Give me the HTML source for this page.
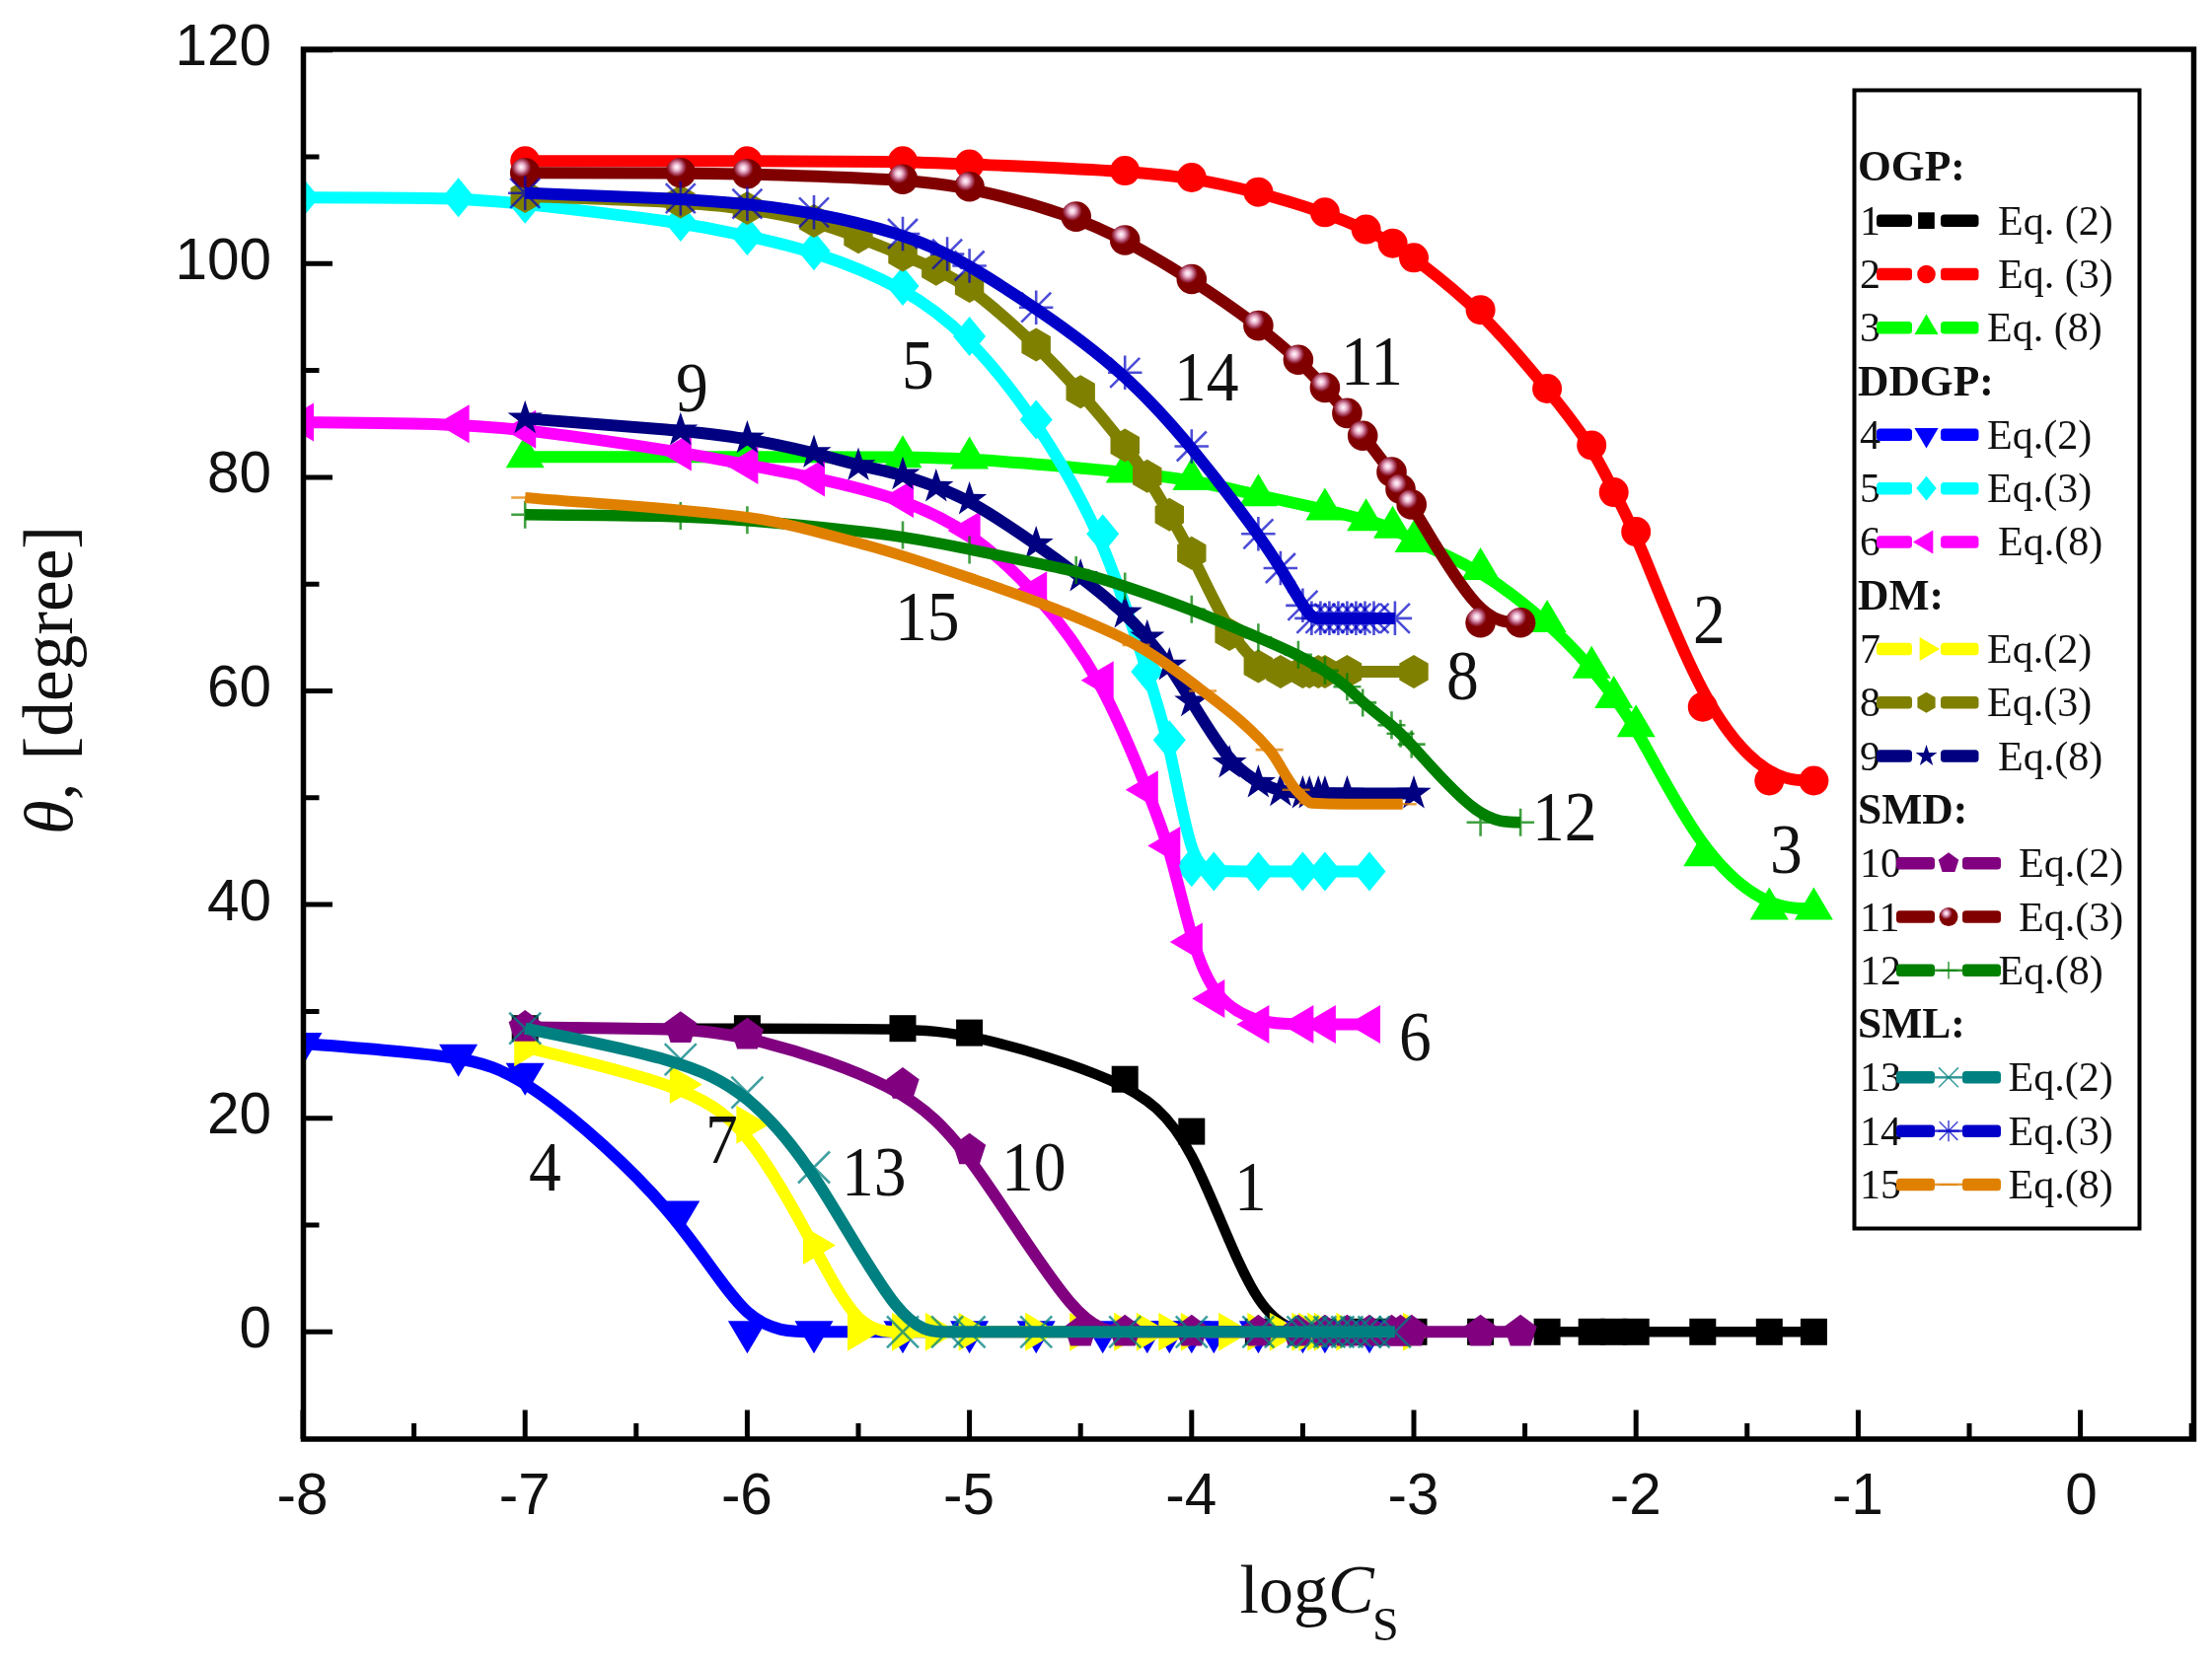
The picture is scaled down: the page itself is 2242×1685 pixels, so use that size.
<!DOCTYPE html>
<html><head><meta charset="utf-8"><title>Contact angle vs logCs</title>
<style>html,body{margin:0;padding:0;background:#fff}svg{display:block;filter:blur(0.6px)}</style></head>
<body>
<svg width="2242" height="1685" viewBox="0 0 2242 1685">
<rect width="2242" height="1685" fill="#fff"/>
<defs><radialGradient id="sph" cx="0.37" cy="0.31" r="0.33" fx="0.37" fy="0.31"><stop offset="0" stop-color="#fff"/><stop offset="0.35" stop-color="#ecb6ce"/><stop offset="0.75" stop-color="#a43c5a"/><stop offset="1" stop-color="#800000"/></radialGradient></defs>
<clipPath id="cp"><rect x="307.5" y="50.0" width="1916.0" height="1409.0"/></clipPath>
<g clip-path="url(#cp)">
<path d="M532.2 1042.7C607.3 1042.7 682.3 1042.7 746.1 1042.7C809.9 1042.7 862.5 1042.7 900.0 1043.5C937.6 1044.2 960.1 1045.6 997.6 1054.2C1035.1 1062.8 1087.7 1078.5 1125.2 1095.1C1162.8 1111.8 1185.3 1129.5 1207.8 1172.2C1230.3 1214.9 1252.8 1282.6 1275.4 1316.4C1297.9 1350.3 1320.4 1350.3 1338.6 1350.3C1356.8 1350.3 1370.7 1350.3 1382.1 1350.3C1393.6 1350.3 1402.6 1350.3 1410.7 1350.3C1418.7 1350.3 1425.9 1350.3 1440.7 1350.3C1455.5 1350.3 1478.0 1350.3 1500.6 1350.3C1523.1 1350.3 1545.6 1350.3 1564.4 1350.3C1583.1 1350.3 1598.1 1350.3 1609.4 1350.3C1620.7 1350.3 1628.2 1350.3 1635.7 1350.3C1643.2 1350.3 1650.7 1350.3 1665.7 1350.3C1680.7 1350.3 1703.2 1350.3 1725.8 1350.3C1748.3 1350.3 1770.8 1350.3 1789.6 1350.3C1808.3 1350.3 1823.3 1350.3 1838.4 1350.3" fill="none" stroke="#000" stroke-width="10.5" stroke-linejoin="round" stroke-linecap="butt"/>
<rect x="518.7" y="1029.2" width="27.0" height="27.0" fill="#000"/>
<rect x="743.9" y="1029.2" width="27.0" height="27.0" fill="#000"/>
<rect x="901.5" y="1029.2" width="27.0" height="27.0" fill="#000"/>
<rect x="969.1" y="1033.6" width="27.0" height="27.0" fill="#000"/>
<rect x="1126.7" y="1080.7" width="27.0" height="27.0" fill="#000"/>
<rect x="1194.3" y="1133.6" width="27.0" height="27.0" fill="#000"/>
<rect x="1261.9" y="1336.8" width="27.0" height="27.0" fill="#000"/>
<rect x="1329.4" y="1336.8" width="27.0" height="27.0" fill="#000"/>
<rect x="1371.1" y="1336.8" width="27.0" height="27.0" fill="#000"/>
<rect x="1398.1" y="1336.8" width="27.0" height="27.0" fill="#000"/>
<rect x="1419.5" y="1336.8" width="27.0" height="27.0" fill="#000"/>
<rect x="1487.1" y="1336.8" width="27.0" height="27.0" fill="#000"/>
<rect x="1554.6" y="1336.8" width="27.0" height="27.0" fill="#000"/>
<rect x="1599.7" y="1336.8" width="27.0" height="27.0" fill="#000"/>
<rect x="1622.2" y="1336.8" width="27.0" height="27.0" fill="#000"/>
<rect x="1644.7" y="1336.8" width="27.0" height="27.0" fill="#000"/>
<rect x="1712.3" y="1336.8" width="27.0" height="27.0" fill="#000"/>
<rect x="1779.8" y="1336.8" width="27.0" height="27.0" fill="#000"/>
<rect x="1824.9" y="1336.8" width="27.0" height="27.0" fill="#000"/>
<path d="M532.2 163.3C607.3 163.3 682.3 163.3 746.1 163.3C809.9 163.3 862.5 163.3 900.0 163.9C937.6 164.4 960.1 165.5 997.6 167.1C1035.1 168.7 1087.7 170.9 1125.2 173.2C1162.8 175.4 1185.3 177.7 1207.8 181.3C1230.3 184.9 1252.8 189.8 1275.4 195.7C1297.9 201.6 1320.4 208.5 1338.6 214.8C1356.8 221.1 1370.7 226.9 1382.1 232.1C1393.6 237.3 1402.6 242.0 1410.7 246.8C1418.7 251.6 1425.9 256.5 1440.7 267.7C1455.5 279.0 1478.0 296.6 1500.6 318.7C1523.1 340.8 1545.6 367.4 1564.4 390.3C1583.1 413.1 1598.1 432.3 1609.4 449.8C1620.7 467.3 1628.2 483.2 1635.7 497.8C1643.2 512.4 1650.7 525.8 1665.7 562.1C1680.7 598.3 1703.2 657.5 1725.8 699.6C1748.3 741.7 1770.8 766.6 1789.6 779.0C1808.3 791.5 1823.3 791.5 1838.4 791.5" fill="none" stroke="#ff0000" stroke-width="12.0" stroke-linejoin="round" stroke-linecap="butt"/>
<circle cx="532.2" cy="163.3" r="15.0" fill="#ff0000"/>
<circle cx="757.4" cy="163.3" r="15.0" fill="#ff0000"/>
<circle cx="915.0" cy="163.3" r="15.0" fill="#ff0000"/>
<circle cx="982.6" cy="166.6" r="15.0" fill="#ff0000"/>
<circle cx="1140.2" cy="173.1" r="15.0" fill="#ff0000"/>
<circle cx="1207.8" cy="180.0" r="15.0" fill="#ff0000"/>
<circle cx="1275.4" cy="194.7" r="15.0" fill="#ff0000"/>
<circle cx="1342.9" cy="215.3" r="15.0" fill="#ff0000"/>
<circle cx="1384.6" cy="232.6" r="15.0" fill="#ff0000"/>
<circle cx="1411.6" cy="246.7" r="15.0" fill="#ff0000"/>
<circle cx="1433.0" cy="261.3" r="15.0" fill="#ff0000"/>
<circle cx="1500.6" cy="314.2" r="15.0" fill="#ff0000"/>
<circle cx="1568.1" cy="394.0" r="15.0" fill="#ff0000"/>
<circle cx="1613.2" cy="451.4" r="15.0" fill="#ff0000"/>
<circle cx="1635.7" cy="499.1" r="15.0" fill="#ff0000"/>
<circle cx="1658.2" cy="539.1" r="15.0" fill="#ff0000"/>
<circle cx="1725.8" cy="716.7" r="15.0" fill="#ff0000"/>
<circle cx="1793.3" cy="791.5" r="15.0" fill="#ff0000"/>
<circle cx="1838.4" cy="791.5" r="15.0" fill="#ff0000"/>
<path d="M532.2 463.3C607.3 463.3 682.3 463.3 746.1 463.3C809.9 463.3 862.5 463.3 900.0 463.5C937.6 463.7 960.1 464.0 997.6 466.6C1035.1 469.1 1087.7 473.8 1125.2 477.4C1162.8 481.0 1185.3 483.5 1207.8 487.5C1230.3 491.5 1252.8 496.9 1275.4 502.0C1297.9 507.0 1320.4 511.7 1338.6 515.8C1356.8 520.0 1370.7 523.6 1382.1 526.7C1393.6 529.7 1402.6 532.3 1410.7 535.9C1418.7 539.5 1425.9 544.2 1440.7 551.2C1455.5 558.3 1478.0 567.7 1500.6 581.2C1523.1 594.7 1545.6 612.4 1564.4 629.0C1583.1 645.6 1598.1 661.2 1609.4 674.0C1620.7 686.8 1628.2 696.9 1635.7 706.8C1643.2 716.7 1650.7 726.5 1665.7 753.2C1680.7 779.9 1703.2 823.6 1725.8 854.5C1748.3 885.3 1770.8 903.4 1789.6 912.4C1808.3 921.4 1823.3 921.4 1838.4 921.4" fill="none" stroke="#00ff00" stroke-width="12.0" stroke-linejoin="round" stroke-linecap="butt"/>
<polygon points="532.2,441.3 512.7,474.3 551.7,474.3" fill="#00ff00"/>
<polygon points="757.4,441.3 737.9,474.3 776.9,474.3" fill="#00ff00"/>
<polygon points="915.0,441.3 895.5,474.3 934.5,474.3" fill="#00ff00"/>
<polygon points="982.6,442.4 963.1,475.4 1002.1,475.4" fill="#00ff00"/>
<polygon points="1140.2,456.5 1120.7,489.5 1159.7,489.5" fill="#00ff00"/>
<polygon points="1207.8,464.1 1188.3,497.1 1227.3,497.1" fill="#00ff00"/>
<polygon points="1275.4,480.3 1255.9,513.3 1294.9,513.3" fill="#00ff00"/>
<polygon points="1342.9,494.4 1323.4,527.4 1362.4,527.4" fill="#00ff00"/>
<polygon points="1384.6,505.2 1365.1,538.2 1404.1,538.2" fill="#00ff00"/>
<polygon points="1411.6,512.8 1392.1,545.8 1431.1,545.8" fill="#00ff00"/>
<polygon points="1433.0,526.9 1413.5,559.9 1452.5,559.9" fill="#00ff00"/>
<polygon points="1500.6,555.0 1481.1,588.0 1520.1,588.0" fill="#00ff00"/>
<polygon points="1568.1,608.1 1548.6,641.1 1587.6,641.1" fill="#00ff00"/>
<polygon points="1613.2,654.7 1593.7,687.7 1632.7,687.7" fill="#00ff00"/>
<polygon points="1635.7,685.0 1616.2,718.0 1655.2,718.0" fill="#00ff00"/>
<polygon points="1658.2,714.2 1638.7,747.2 1677.7,747.2" fill="#00ff00"/>
<polygon points="1725.8,845.3 1706.3,878.3 1745.3,878.3" fill="#00ff00"/>
<polygon points="1793.3,899.4 1773.8,932.4 1812.8,932.4" fill="#00ff00"/>
<polygon points="1838.4,899.4 1818.9,932.4 1857.9,932.4" fill="#00ff00"/>
<path d="M307.0 1057.9C359.5 1061.9 412.1 1065.8 449.6 1071.0C487.2 1076.1 509.7 1082.4 547.2 1108.9C584.7 1135.3 637.3 1181.9 674.8 1225.5C712.4 1269.1 734.9 1309.7 757.4 1330.0C779.9 1350.3 802.4 1350.3 828.7 1350.3C855.0 1350.3 885.0 1350.3 911.3 1350.3C937.6 1350.3 960.1 1350.3 982.6 1350.3C1005.1 1350.3 1027.6 1350.3 1050.2 1350.3C1072.7 1350.3 1095.2 1350.3 1114.0 1350.3C1132.7 1350.3 1147.7 1350.3 1159.0 1350.3C1170.3 1350.3 1177.8 1350.3 1185.3 1350.3C1192.8 1350.3 1200.3 1350.3 1207.8 1350.3C1215.3 1350.3 1222.8 1350.3 1234.1 1350.3C1245.3 1350.3 1260.3 1350.3 1275.4 1350.3C1290.4 1350.3 1305.4 1350.3 1316.6 1350.3C1327.9 1350.3 1335.4 1350.3 1346.7 1350.3C1357.9 1350.3 1372.9 1350.3 1388.0 1350.3" fill="none" stroke="#0000ff" stroke-width="12.0" stroke-linejoin="round" stroke-linecap="butt"/>
<polygon points="307.0,1079.9 326.5,1046.9 287.5,1046.9" fill="#0000ff"/>
<polygon points="464.6,1091.8 484.1,1058.8 445.1,1058.8" fill="#0000ff"/>
<polygon points="532.2,1110.8 551.7,1077.8 512.7,1077.8" fill="#0000ff"/>
<polygon points="689.8,1250.5 709.3,1217.5 670.3,1217.5" fill="#0000ff"/>
<polygon points="757.4,1372.3 776.9,1339.3 737.9,1339.3" fill="#0000ff"/>
<polygon points="825.0,1372.3 844.5,1339.3 805.5,1339.3" fill="#0000ff"/>
<polygon points="915.0,1372.3 934.5,1339.3 895.5,1339.3" fill="#0000ff"/>
<polygon points="982.6,1372.3 1002.1,1339.3 963.1,1339.3" fill="#0000ff"/>
<polygon points="1050.2,1372.3 1069.7,1339.3 1030.7,1339.3" fill="#0000ff"/>
<polygon points="1117.7,1372.3 1137.2,1339.3 1098.2,1339.3" fill="#0000ff"/>
<polygon points="1162.8,1372.3 1182.3,1339.3 1143.3,1339.3" fill="#0000ff"/>
<polygon points="1185.3,1372.3 1204.8,1339.3 1165.8,1339.3" fill="#0000ff"/>
<polygon points="1207.8,1372.3 1227.3,1339.3 1188.3,1339.3" fill="#0000ff"/>
<polygon points="1230.3,1372.3 1249.8,1339.3 1210.8,1339.3" fill="#0000ff"/>
<polygon points="1275.4,1372.3 1294.9,1339.3 1255.9,1339.3" fill="#0000ff"/>
<polygon points="1320.4,1372.3 1339.9,1339.3 1300.9,1339.3" fill="#0000ff"/>
<polygon points="1342.9,1372.3 1362.4,1339.3 1323.4,1339.3" fill="#0000ff"/>
<polygon points="1388.0,1372.3 1407.5,1339.3 1368.5,1339.3" fill="#0000ff"/>
<path d="M307.0 200.2C359.5 200.2 412.1 200.2 449.6 201.2C487.2 202.3 509.7 204.5 547.2 208.6C584.7 212.8 637.3 218.9 674.8 224.3C712.4 229.8 734.9 234.4 757.4 239.3C779.9 244.2 802.4 249.2 828.7 257.7C855.0 266.2 885.0 278.1 911.3 292.6C937.6 307.0 960.1 324.0 982.6 346.5C1005.1 369.1 1027.6 397.3 1050.2 430.7C1072.7 464.0 1095.2 502.7 1114.0 545.3C1132.7 587.9 1147.7 634.4 1159.0 669.3C1170.3 704.1 1177.8 727.2 1185.3 760.2C1192.8 793.3 1200.3 836.2 1207.8 858.4C1215.3 880.6 1222.8 882.1 1234.1 882.8C1245.3 883.5 1260.3 883.5 1275.4 883.5C1290.4 883.5 1305.4 883.5 1316.6 883.5C1327.9 883.5 1335.4 883.5 1346.7 883.5C1357.9 883.5 1372.9 883.5 1388.0 883.5" fill="none" stroke="#00ffff" stroke-width="12.0" stroke-linejoin="round" stroke-linecap="butt"/>
<polygon points="307.0,180.2 323.5,200.2 307.0,220.2 290.5,200.2" fill="#00ffff"/>
<polygon points="464.6,180.2 481.1,200.2 464.6,220.2 448.1,200.2" fill="#00ffff"/>
<polygon points="532.2,186.7 548.7,206.7 532.2,226.7 515.7,206.7" fill="#00ffff"/>
<polygon points="689.8,205.1 706.3,225.1 689.8,245.1 673.3,225.1" fill="#00ffff"/>
<polygon points="757.4,219.1 773.9,239.1 757.4,259.1 740.9,239.1" fill="#00ffff"/>
<polygon points="825.0,234.3 841.5,254.3 825.0,274.3 808.5,254.3" fill="#00ffff"/>
<polygon points="915.0,270.0 931.5,290.0 915.0,310.0 898.5,290.0" fill="#00ffff"/>
<polygon points="982.6,320.9 999.1,340.9 982.6,360.9 966.1,340.9" fill="#00ffff"/>
<polygon points="1050.2,405.4 1066.7,425.4 1050.2,445.4 1033.7,425.4" fill="#00ffff"/>
<polygon points="1117.7,521.3 1134.2,541.3 1117.7,561.3 1101.2,541.3" fill="#00ffff"/>
<polygon points="1162.8,661.0 1179.3,681.0 1162.8,701.0 1146.3,681.0" fill="#00ffff"/>
<polygon points="1185.3,730.3 1201.8,750.3 1185.3,770.3 1168.8,750.3" fill="#00ffff"/>
<polygon points="1207.8,859.2 1224.3,879.2 1207.8,899.2 1191.3,879.2" fill="#00ffff"/>
<polygon points="1230.3,863.5 1246.8,883.5 1230.3,903.5 1213.8,883.5" fill="#00ffff"/>
<polygon points="1275.4,863.5 1291.9,883.5 1275.4,903.5 1258.9,883.5" fill="#00ffff"/>
<polygon points="1320.4,863.5 1336.9,883.5 1320.4,903.5 1303.9,883.5" fill="#00ffff"/>
<polygon points="1342.9,863.5 1359.4,883.5 1342.9,903.5 1326.4,883.5" fill="#00ffff"/>
<polygon points="1388.0,863.5 1404.5,883.5 1388.0,903.5 1371.5,883.5" fill="#00ffff"/>
<path d="M307.0 428.1C359.5 428.7 412.1 429.2 449.6 430.4C487.2 431.6 509.7 433.4 547.2 438.1C584.7 442.7 637.3 450.3 674.8 456.4C712.4 462.4 734.9 466.9 757.4 471.3C779.9 475.6 802.4 479.7 828.7 485.4C855.0 491.1 885.0 498.3 911.3 507.4C937.6 516.4 960.1 527.2 982.6 542.7C1005.1 558.3 1027.6 578.5 1050.2 603.8C1072.7 629.0 1095.2 659.3 1114.0 693.0C1132.7 726.7 1147.7 763.7 1159.0 791.7C1170.3 819.6 1177.8 838.6 1185.3 864.3C1192.8 890.0 1200.3 922.5 1207.8 948.3C1215.3 974.1 1222.8 993.3 1234.1 1007.2C1245.3 1021.1 1260.3 1029.7 1275.4 1034.1C1290.4 1038.4 1305.4 1038.4 1316.6 1038.4C1327.9 1038.4 1335.4 1038.4 1346.7 1038.4C1357.9 1038.4 1372.9 1038.4 1388.0 1038.4" fill="none" stroke="#ff00ff" stroke-width="12.0" stroke-linejoin="round" stroke-linecap="butt"/>
<polygon points="285.0,428.1 318.0,447.6 318.0,408.6" fill="#ff00ff"/>
<polygon points="442.6,429.8 475.6,449.2 475.6,410.2" fill="#ff00ff"/>
<polygon points="510.2,435.2 543.2,454.7 543.2,415.7" fill="#ff00ff"/>
<polygon points="667.8,457.9 700.8,477.4 700.8,438.4" fill="#ff00ff"/>
<polygon points="735.4,471.4 768.4,490.9 768.4,451.9" fill="#ff00ff"/>
<polygon points="803.0,483.9 836.0,503.4 836.0,464.4" fill="#ff00ff"/>
<polygon points="893.0,505.6 926.0,525.1 926.0,486.1" fill="#ff00ff"/>
<polygon points="960.6,538.0 993.6,557.5 993.6,518.5" fill="#ff00ff"/>
<polygon points="1028.2,598.7 1061.2,618.2 1061.2,579.2" fill="#ff00ff"/>
<polygon points="1095.7,689.7 1128.7,709.2 1128.7,670.2" fill="#ff00ff"/>
<polygon points="1140.8,800.7 1173.8,820.2 1173.8,781.2" fill="#ff00ff"/>
<polygon points="1163.3,857.5 1196.3,877.0 1196.3,838.0" fill="#ff00ff"/>
<polygon points="1185.8,955.0 1218.8,974.5 1218.8,935.5" fill="#ff00ff"/>
<polygon points="1208.3,1012.4 1241.3,1031.9 1241.3,992.9" fill="#ff00ff"/>
<polygon points="1253.4,1038.4 1286.4,1057.9 1286.4,1018.9" fill="#ff00ff"/>
<polygon points="1298.4,1038.4 1331.4,1057.9 1331.4,1018.9" fill="#ff00ff"/>
<polygon points="1320.9,1038.4 1353.9,1057.9 1353.9,1018.9" fill="#ff00ff"/>
<polygon points="1366.0,1038.4 1399.0,1057.9 1399.0,1018.9" fill="#ff00ff"/>
<path d="M532.2 1061.7C584.7 1074.3 637.3 1087.0 674.8 1100.0C712.4 1113.1 734.9 1126.7 757.4 1153.8C779.9 1181.0 802.4 1221.8 821.2 1256.8C840.0 1291.8 855.0 1321.1 870.0 1335.7C885.0 1350.3 900.0 1350.3 913.2 1350.3C926.3 1350.3 937.6 1350.3 948.8 1350.3C960.1 1350.3 971.3 1350.3 988.2 1350.3C1005.1 1350.3 1027.6 1350.3 1046.4 1350.3C1065.2 1350.3 1080.2 1350.3 1095.2 1350.3C1110.2 1350.3 1125.2 1350.3 1136.5 1350.3C1147.7 1350.3 1155.3 1350.3 1162.8 1350.3C1170.3 1350.3 1177.8 1350.3 1185.3 1350.3C1192.8 1350.3 1200.3 1350.3 1210.4 1350.3C1220.6 1350.3 1233.3 1350.3 1244.6 1350.3C1255.8 1350.3 1265.6 1350.3 1274.2 1350.3C1282.9 1350.3 1290.4 1350.3 1297.9 1350.3C1305.4 1350.3 1312.9 1350.3 1317.8 1350.3C1322.7 1350.3 1324.9 1350.3 1327.5 1350.3C1330.2 1350.3 1333.2 1350.3 1335.8 1350.3C1338.4 1350.3 1340.7 1350.3 1345.5 1350.3C1350.4 1350.3 1357.9 1350.3 1372.9 1350.3C1388.0 1350.3 1410.5 1350.3 1433.0 1350.3" fill="none" stroke="#ffff00" stroke-width="12.0" stroke-linejoin="round" stroke-linecap="butt"/>
<polygon points="554.2,1061.7 521.2,1042.2 521.2,1081.2" fill="#ffff00"/>
<polygon points="711.8,1099.6 678.8,1080.1 678.8,1119.1" fill="#ffff00"/>
<polygon points="779.4,1140.2 746.4,1120.7 746.4,1159.7" fill="#ffff00"/>
<polygon points="847.0,1262.6 814.0,1243.1 814.0,1282.1" fill="#ffff00"/>
<polygon points="892.0,1350.3 859.0,1330.8 859.0,1369.8" fill="#ffff00"/>
<polygon points="937.0,1350.3 904.0,1330.8 904.0,1369.8" fill="#ffff00"/>
<polygon points="970.8,1350.3 937.8,1330.8 937.8,1369.8" fill="#ffff00"/>
<polygon points="1004.6,1350.3 971.6,1330.8 971.6,1369.8" fill="#ffff00"/>
<polygon points="1072.2,1350.3 1039.2,1330.8 1039.2,1369.8" fill="#ffff00"/>
<polygon points="1117.2,1350.3 1084.2,1330.8 1084.2,1369.8" fill="#ffff00"/>
<polygon points="1162.2,1350.3 1129.2,1330.8 1129.2,1369.8" fill="#ffff00"/>
<polygon points="1184.8,1350.3 1151.8,1330.8 1151.8,1369.8" fill="#ffff00"/>
<polygon points="1207.3,1350.3 1174.3,1330.8 1174.3,1369.8" fill="#ffff00"/>
<polygon points="1229.8,1350.3 1196.8,1330.8 1196.8,1369.8" fill="#ffff00"/>
<polygon points="1268.1,1350.3 1235.1,1330.8 1235.1,1369.8" fill="#ffff00"/>
<polygon points="1297.4,1350.3 1264.4,1330.8 1264.4,1369.8" fill="#ffff00"/>
<polygon points="1319.9,1350.3 1286.9,1330.8 1286.9,1369.8" fill="#ffff00"/>
<polygon points="1342.4,1350.3 1309.4,1330.8 1309.4,1369.8" fill="#ffff00"/>
<polygon points="1349.2,1350.3 1316.2,1330.8 1316.2,1369.8" fill="#ffff00"/>
<polygon points="1358.2,1350.3 1325.2,1330.8 1325.2,1369.8" fill="#ffff00"/>
<polygon points="1364.9,1350.3 1331.9,1330.8 1331.9,1369.8" fill="#ffff00"/>
<polygon points="1387.4,1350.3 1354.4,1330.8 1354.4,1369.8" fill="#ffff00"/>
<polygon points="1455.0,1350.3 1422.0,1330.8 1422.0,1369.8" fill="#ffff00"/>
<path d="M532.2 199.1C584.7 200.9 637.3 202.7 674.8 204.7C712.4 206.7 734.9 208.8 757.4 212.1C779.9 215.3 802.4 219.6 821.2 224.5C840.0 229.4 855.0 234.8 870.0 240.6C885.0 246.4 900.0 252.5 913.2 257.9C926.3 263.3 937.6 268.0 948.8 273.3C960.1 278.5 971.3 284.3 988.2 297.1C1005.1 309.9 1027.6 329.8 1046.4 347.6C1065.2 365.5 1080.2 381.4 1095.2 398.3C1110.2 415.3 1125.2 433.4 1136.5 447.6C1147.7 461.9 1155.3 472.3 1162.8 484.1C1170.3 495.8 1177.8 508.8 1185.3 521.8C1192.8 534.8 1200.3 547.8 1210.4 568.0C1220.6 588.2 1233.3 615.7 1244.6 634.8C1255.8 653.9 1265.6 664.8 1274.2 671.1C1282.9 677.4 1290.4 679.2 1297.9 680.1C1305.4 681.0 1312.9 681.0 1317.8 681.0C1322.7 681.0 1324.9 681.0 1327.5 681.0C1330.2 681.0 1333.2 681.0 1335.8 681.0C1338.4 681.0 1340.7 681.0 1345.5 681.0C1350.4 681.0 1357.9 681.0 1372.9 681.0C1388.0 681.0 1410.5 681.0 1433.0 681.0" fill="none" stroke="#808000" stroke-width="12.0" stroke-linejoin="round" stroke-linecap="butt"/>
<polygon points="532.2,182.1 517.5,190.6 517.5,207.6 532.2,216.1 546.9,207.6 546.9,190.6" fill="#808000"/>
<polygon points="689.8,187.5 675.1,196.0 675.1,213.0 689.8,221.5 704.6,213.0 704.6,196.0" fill="#808000"/>
<polygon points="757.4,194.0 742.7,202.5 742.7,219.5 757.4,228.0 772.1,219.5 772.1,202.5" fill="#808000"/>
<polygon points="825.0,207.0 810.2,215.5 810.2,232.5 825.0,241.0 839.7,232.5 839.7,215.5" fill="#808000"/>
<polygon points="870.0,223.2 855.3,231.7 855.3,248.7 870.0,257.2 884.7,248.7 884.7,231.7" fill="#808000"/>
<polygon points="915.0,241.6 900.3,250.1 900.3,267.1 915.0,275.6 929.8,267.1 929.8,250.1" fill="#808000"/>
<polygon points="948.8,255.7 934.1,264.2 934.1,281.2 948.8,289.7 963.5,281.2 963.5,264.2" fill="#808000"/>
<polygon points="982.6,273.0 967.9,281.5 967.9,298.5 982.6,307.0 997.3,298.5 997.3,281.5" fill="#808000"/>
<polygon points="1050.2,332.6 1035.4,341.1 1035.4,358.1 1050.2,366.6 1064.9,358.1 1064.9,341.1" fill="#808000"/>
<polygon points="1095.2,380.3 1080.5,388.8 1080.5,405.8 1095.2,414.3 1109.9,405.8 1109.9,388.8" fill="#808000"/>
<polygon points="1140.2,434.4 1125.5,442.9 1125.5,459.9 1140.2,468.4 1155.0,459.9 1155.0,442.9" fill="#808000"/>
<polygon points="1162.8,465.8 1148.0,474.3 1148.0,491.3 1162.8,499.8 1177.5,491.3 1177.5,474.3" fill="#808000"/>
<polygon points="1185.3,504.8 1170.6,513.3 1170.6,530.3 1185.3,538.8 1200.0,530.3 1200.0,513.3" fill="#808000"/>
<polygon points="1207.8,543.8 1193.1,552.3 1193.1,569.3 1207.8,577.8 1222.5,569.3 1222.5,552.3" fill="#808000"/>
<polygon points="1246.1,626.1 1231.4,634.6 1231.4,651.6 1246.1,660.1 1260.8,651.6 1260.8,634.6" fill="#808000"/>
<polygon points="1275.4,658.6 1260.6,667.1 1260.6,684.1 1275.4,692.6 1290.1,684.1 1290.1,667.1" fill="#808000"/>
<polygon points="1297.9,664.0 1283.2,672.5 1283.2,689.5 1297.9,698.0 1312.6,689.5 1312.6,672.5" fill="#808000"/>
<polygon points="1320.4,664.0 1305.7,672.5 1305.7,689.5 1320.4,698.0 1335.1,689.5 1335.1,672.5" fill="#808000"/>
<polygon points="1327.2,664.0 1312.4,672.5 1312.4,689.5 1327.2,698.0 1341.9,689.5 1341.9,672.5" fill="#808000"/>
<polygon points="1336.2,664.0 1321.4,672.5 1321.4,689.5 1336.2,698.0 1350.9,689.5 1350.9,672.5" fill="#808000"/>
<polygon points="1342.9,664.0 1328.2,672.5 1328.2,689.5 1342.9,698.0 1357.6,689.5 1357.6,672.5" fill="#808000"/>
<polygon points="1365.4,664.0 1350.7,672.5 1350.7,689.5 1365.4,698.0 1380.2,689.5 1380.2,672.5" fill="#808000"/>
<polygon points="1433.0,664.0 1418.3,672.5 1418.3,689.5 1433.0,698.0 1447.7,689.5 1447.7,672.5" fill="#808000"/>
<path d="M532.2 424.3C584.7 428.3 637.3 432.3 674.8 435.6C712.4 439.0 734.9 441.7 757.4 445.5C779.9 449.2 802.4 454.1 821.2 458.7C840.0 463.3 855.0 467.7 870.0 471.4C885.0 475.1 900.0 478.1 913.2 481.7C926.3 485.3 937.6 489.5 948.8 493.7C960.1 498.0 971.3 502.3 988.2 512.0C1005.1 521.6 1027.6 536.6 1046.4 549.6C1065.2 562.6 1080.2 573.6 1095.2 585.3C1110.2 596.9 1125.2 609.2 1136.5 619.5C1147.7 629.7 1155.3 638.0 1162.8 646.9C1170.3 655.7 1177.8 665.1 1185.3 676.0C1192.8 686.8 1200.3 699.1 1210.4 715.6C1220.6 732.1 1233.3 752.8 1244.6 766.6C1255.8 780.3 1265.6 787.0 1274.2 791.7C1282.9 796.5 1290.4 799.4 1297.9 801.2C1305.4 803.0 1312.9 803.7 1317.8 804.1C1322.7 804.5 1324.9 804.5 1327.5 804.5C1330.2 804.5 1333.2 804.5 1335.8 804.5C1338.4 804.5 1340.7 804.5 1345.5 804.5C1350.4 804.5 1357.9 804.5 1372.9 804.5C1388.0 804.5 1410.5 804.5 1433.0 804.5" fill="none" stroke="#000080" stroke-width="12.0" stroke-linejoin="round" stroke-linecap="butt"/>
<polygon points="532.2,405.8 528.0,418.5 514.6,418.6 525.4,426.6 521.3,439.3 532.2,431.5 543.1,439.3 539.0,426.6 549.8,418.6 536.4,418.5" fill="#000080"/>
<polygon points="689.8,417.7 685.6,430.4 672.2,430.5 683.0,438.5 679.0,451.2 689.8,443.4 700.7,451.2 696.7,438.5 707.4,430.5 694.1,430.4" fill="#000080"/>
<polygon points="757.4,425.9 753.2,438.5 739.8,438.7 750.6,446.6 746.5,459.3 757.4,451.6 768.3,459.3 764.2,446.6 775.0,438.7 761.6,438.5" fill="#000080"/>
<polygon points="825.0,440.5 820.7,453.2 807.4,453.3 818.1,461.2 814.1,474.0 825.0,466.2 835.8,474.0 831.8,461.2 842.6,453.3 829.2,453.2" fill="#000080"/>
<polygon points="870.0,453.5 865.8,466.2 852.4,466.3 863.2,474.2 859.1,487.0 870.0,479.2 880.9,487.0 876.8,474.2 887.6,466.3 874.2,466.2" fill="#000080"/>
<polygon points="915.0,462.7 910.8,475.4 897.4,475.5 908.2,483.4 904.2,496.2 915.0,488.4 925.9,496.2 921.9,483.4 932.6,475.5 919.3,475.4" fill="#000080"/>
<polygon points="948.8,475.1 944.6,487.8 931.2,487.9 942.0,495.9 937.9,508.6 948.8,500.8 959.7,508.6 955.7,495.9 966.4,487.9 953.1,487.8" fill="#000080"/>
<polygon points="982.6,488.1 978.4,500.8 965.0,500.9 975.8,508.9 971.7,521.6 982.6,513.8 993.5,521.6 989.4,508.9 1000.2,500.9 986.8,500.8" fill="#000080"/>
<polygon points="1050.2,533.1 1045.9,545.8 1032.6,545.9 1043.3,553.8 1039.3,566.6 1050.2,558.8 1061.0,566.6 1057.0,553.8 1067.8,545.9 1054.4,545.8" fill="#000080"/>
<polygon points="1095.2,566.1 1091.0,578.8 1077.6,578.9 1088.4,586.8 1084.3,599.6 1095.2,591.8 1106.1,599.6 1102.0,586.8 1112.8,578.9 1099.4,578.8" fill="#000080"/>
<polygon points="1140.2,602.9 1136.0,615.6 1122.6,615.7 1133.4,623.7 1129.4,636.4 1140.2,628.6 1151.1,636.4 1147.1,623.7 1157.8,615.7 1144.5,615.6" fill="#000080"/>
<polygon points="1162.8,627.8 1158.5,640.5 1145.2,640.6 1155.9,648.6 1151.9,661.3 1162.8,653.5 1173.6,661.3 1169.6,648.6 1180.4,640.6 1167.0,640.5" fill="#000080"/>
<polygon points="1185.3,656.0 1181.0,668.7 1167.7,668.8 1178.4,676.7 1174.4,689.5 1185.3,681.7 1196.2,689.5 1192.1,676.7 1202.9,668.8 1189.5,668.7" fill="#000080"/>
<polygon points="1207.8,692.8 1203.6,705.5 1190.2,705.6 1201.0,713.6 1196.9,726.3 1207.8,718.5 1218.7,726.3 1214.6,713.6 1225.4,705.6 1212.0,705.5" fill="#000080"/>
<polygon points="1246.1,755.1 1241.9,767.8 1228.5,767.9 1239.2,775.8 1235.2,788.6 1246.1,780.8 1257.0,788.6 1252.9,775.8 1263.7,767.9 1250.3,767.8" fill="#000080"/>
<polygon points="1275.4,775.1 1271.1,787.8 1257.8,787.9 1268.5,795.9 1264.5,808.6 1275.4,800.8 1286.2,808.6 1282.2,795.9 1293.0,787.9 1279.6,787.8" fill="#000080"/>
<polygon points="1297.9,783.8 1293.6,796.5 1280.3,796.6 1291.0,804.5 1287.0,817.3 1297.9,809.5 1308.8,817.3 1304.7,804.5 1315.5,796.6 1302.1,796.5" fill="#000080"/>
<polygon points="1320.4,786.0 1316.2,798.6 1302.8,798.8 1313.6,806.7 1309.5,819.4 1320.4,811.7 1331.3,819.4 1327.2,806.7 1338.0,798.8 1324.6,798.6" fill="#000080"/>
<polygon points="1327.2,786.0 1322.9,798.6 1309.6,798.8 1320.3,806.7 1316.3,819.4 1327.2,811.7 1338.0,819.4 1334.0,806.7 1344.8,798.8 1331.4,798.6" fill="#000080"/>
<polygon points="1336.2,786.0 1331.9,798.6 1318.6,798.8 1329.3,806.7 1325.3,819.4 1336.2,811.7 1347.0,819.4 1343.0,806.7 1353.8,798.8 1340.4,798.6" fill="#000080"/>
<polygon points="1342.9,786.0 1338.7,798.6 1325.3,798.8 1336.1,806.7 1332.0,819.4 1342.9,811.7 1353.8,819.4 1349.8,806.7 1360.5,798.8 1347.2,798.6" fill="#000080"/>
<polygon points="1365.4,786.0 1361.2,798.6 1347.8,798.8 1358.6,806.7 1354.6,819.4 1365.4,811.7 1376.3,819.4 1372.3,806.7 1383.0,798.8 1369.7,798.6" fill="#000080"/>
<polygon points="1433.0,786.0 1428.8,798.6 1415.4,798.8 1426.2,806.7 1422.1,819.4 1433.0,811.7 1443.9,819.4 1439.8,806.7 1450.6,798.8 1437.2,798.6" fill="#000080"/>
<path d="M532.2 1041.6C584.7 1042.0 637.3 1042.4 674.8 1043.6C712.4 1044.9 734.9 1047.1 772.4 1056.5C809.9 1066.0 862.5 1082.8 900.0 1102.3C937.6 1121.8 960.1 1144.0 990.1 1185.8C1020.1 1227.6 1057.7 1288.9 1083.9 1319.6C1110.2 1350.3 1125.2 1350.3 1144.0 1350.3C1162.8 1350.3 1185.3 1350.3 1207.8 1350.3C1230.3 1350.3 1252.8 1350.3 1270.9 1350.3C1288.9 1350.3 1302.4 1350.3 1313.6 1350.3C1324.9 1350.3 1333.9 1350.3 1342.2 1350.3C1350.4 1350.3 1357.9 1350.3 1365.4 1350.3C1372.9 1350.3 1380.5 1350.3 1388.0 1350.3C1395.5 1350.3 1403.0 1350.3 1408.2 1350.3C1413.5 1350.3 1416.5 1350.3 1419.9 1350.3C1423.2 1350.3 1427.0 1350.3 1440.5 1350.3C1454.0 1350.3 1477.3 1350.3 1495.7 1350.3C1514.1 1350.3 1527.6 1350.3 1541.1 1350.3" fill="none" stroke="#800080" stroke-width="12.0" stroke-linejoin="round" stroke-linecap="butt"/>
<polygon points="532.2,1024.1 515.6,1036.2 521.9,1055.8 542.5,1055.8 548.8,1036.2" fill="#800080"/>
<polygon points="689.8,1025.2 673.2,1037.3 679.6,1056.9 700.1,1056.9 706.5,1037.3" fill="#800080"/>
<polygon points="757.4,1031.7 740.8,1043.8 747.1,1063.4 767.7,1063.4 774.0,1043.8" fill="#800080"/>
<polygon points="915.0,1082.1 898.4,1094.2 904.8,1113.7 925.3,1113.7 931.7,1094.2" fill="#800080"/>
<polygon points="982.6,1148.7 966.0,1160.8 972.3,1180.3 992.9,1180.3 999.2,1160.8" fill="#800080"/>
<polygon points="1095.2,1332.8 1078.6,1344.9 1084.9,1364.5 1105.5,1364.5 1111.8,1344.9" fill="#800080"/>
<polygon points="1140.2,1332.8 1123.6,1344.9 1130.0,1364.5 1150.5,1364.5 1156.9,1344.9" fill="#800080"/>
<polygon points="1207.8,1332.8 1191.2,1344.9 1197.5,1364.5 1218.1,1364.5 1224.4,1344.9" fill="#800080"/>
<polygon points="1275.4,1332.8 1258.7,1344.9 1265.1,1364.5 1285.6,1364.5 1292.0,1344.9" fill="#800080"/>
<polygon points="1315.9,1332.8 1299.3,1344.9 1305.6,1364.5 1326.2,1364.5 1332.5,1344.9" fill="#800080"/>
<polygon points="1342.9,1332.8 1326.3,1344.9 1332.6,1364.5 1353.2,1364.5 1359.6,1344.9" fill="#800080"/>
<polygon points="1365.4,1332.8 1348.8,1344.9 1355.2,1364.5 1375.7,1364.5 1382.1,1344.9" fill="#800080"/>
<polygon points="1388.0,1332.8 1371.3,1344.9 1377.7,1364.5 1398.2,1364.5 1404.6,1344.9" fill="#800080"/>
<polygon points="1410.5,1332.8 1393.8,1344.9 1400.2,1364.5 1420.8,1364.5 1427.1,1344.9" fill="#800080"/>
<polygon points="1419.5,1332.8 1402.8,1344.9 1409.2,1364.5 1429.8,1364.5 1436.1,1344.9" fill="#800080"/>
<polygon points="1430.7,1332.8 1414.1,1344.9 1420.5,1364.5 1441.0,1364.5 1447.4,1344.9" fill="#800080"/>
<polygon points="1500.6,1332.8 1483.9,1344.9 1490.3,1364.5 1510.8,1364.5 1517.2,1344.9" fill="#800080"/>
<polygon points="1541.1,1332.8 1524.5,1344.9 1530.8,1364.5 1551.4,1364.5 1557.7,1344.9" fill="#800080"/>
<path d="M532.2 175.2C584.7 175.2 637.3 175.2 674.8 175.4C712.4 175.6 734.9 176.0 772.4 177.0C809.9 178.1 862.5 179.9 900.0 182.1C937.6 184.3 960.1 186.8 989.4 193.1C1018.6 199.4 1054.7 209.5 1080.9 218.6C1107.2 227.6 1123.7 235.5 1143.2 246.1C1162.8 256.7 1185.3 269.8 1207.8 284.3C1230.3 298.7 1252.8 314.4 1270.9 328.0C1288.9 341.7 1302.4 353.2 1313.6 363.7C1324.9 374.2 1333.9 383.5 1342.2 392.6C1350.4 401.6 1357.9 410.3 1364.3 418.4C1370.7 426.5 1375.9 434.1 1383.5 444.0C1391.0 453.9 1400.7 466.2 1407.1 475.2C1413.5 484.3 1416.5 490.0 1419.9 495.5C1423.2 501.0 1427.0 506.3 1440.5 528.8C1454.0 551.4 1477.3 591.3 1495.7 611.2C1514.1 631.2 1527.6 631.2 1541.1 631.2" fill="none" stroke="#800000" stroke-width="12.0" stroke-linejoin="round" stroke-linecap="butt"/>
<circle cx="532.2" cy="175.2" r="15.3" fill="url(#sph)"/>
<circle cx="689.8" cy="175.2" r="15.3" fill="url(#sph)"/>
<circle cx="757.4" cy="176.3" r="15.3" fill="url(#sph)"/>
<circle cx="915.0" cy="181.7" r="15.3" fill="url(#sph)"/>
<circle cx="982.6" cy="189.3" r="15.3" fill="url(#sph)"/>
<circle cx="1090.7" cy="219.6" r="15.3" fill="url(#sph)"/>
<circle cx="1140.2" cy="243.5" r="15.3" fill="url(#sph)"/>
<circle cx="1207.8" cy="283.0" r="15.3" fill="url(#sph)"/>
<circle cx="1275.4" cy="330.1" r="15.3" fill="url(#sph)"/>
<circle cx="1315.9" cy="364.8" r="15.3" fill="url(#sph)"/>
<circle cx="1342.9" cy="392.9" r="15.3" fill="url(#sph)"/>
<circle cx="1365.4" cy="418.9" r="15.3" fill="url(#sph)"/>
<circle cx="1381.2" cy="441.7" r="15.3" fill="url(#sph)"/>
<circle cx="1410.5" cy="478.5" r="15.3" fill="url(#sph)"/>
<circle cx="1419.5" cy="495.8" r="15.3" fill="url(#sph)"/>
<circle cx="1430.7" cy="511.5" r="15.3" fill="url(#sph)"/>
<circle cx="1500.6" cy="631.2" r="15.3" fill="url(#sph)"/>
<circle cx="1541.1" cy="631.2" r="15.3" fill="url(#sph)"/>
<path d="M532.2 521.8C584.7 522.2 637.3 522.5 674.8 523.4C712.4 524.3 734.9 525.8 772.4 529.0C809.9 532.3 862.5 537.3 900.0 542.4C937.6 547.4 960.1 552.5 989.4 558.4C1018.6 564.4 1054.7 571.3 1080.9 577.4C1107.2 583.5 1123.7 589.0 1143.2 595.5C1162.8 602.1 1185.3 609.9 1207.8 618.6C1230.3 627.2 1252.8 636.8 1270.9 644.5C1288.9 652.1 1302.4 657.9 1313.6 663.5C1324.9 669.1 1333.9 674.5 1342.2 679.9C1350.4 685.3 1357.9 690.8 1364.3 696.2C1370.7 701.6 1375.9 707.0 1383.5 713.5C1391.0 720.0 1400.7 727.6 1407.1 732.8C1413.5 738.0 1416.5 740.9 1419.9 744.2C1423.2 747.4 1427.0 751.0 1440.5 766.0C1454.0 781.0 1477.3 807.4 1495.7 820.5C1514.1 833.7 1527.6 833.7 1541.1 833.7" fill="none" stroke="#008000" stroke-width="11.5" stroke-linejoin="round" stroke-linecap="butt"/>
<path d="M518.2 521.8H546.2M532.2 507.8V535.8" stroke="#008000" stroke-width="2.6" fill="none" opacity="0.75"/>
<path d="M675.8 522.9H703.8M689.8 508.9V536.9" stroke="#008000" stroke-width="2.6" fill="none" opacity="0.75"/>
<path d="M743.4 527.2H771.4M757.4 513.2V541.2" stroke="#008000" stroke-width="2.6" fill="none" opacity="0.75"/>
<path d="M901.0 542.4H929.0M915.0 528.4V556.4" stroke="#008000" stroke-width="2.6" fill="none" opacity="0.75"/>
<path d="M968.6 557.5H996.6M982.6 543.5V571.5" stroke="#008000" stroke-width="2.6" fill="none" opacity="0.75"/>
<path d="M1076.7 578.1H1104.7M1090.7 564.1V592.1" stroke="#008000" stroke-width="2.6" fill="none" opacity="0.75"/>
<path d="M1126.2 594.4H1154.2M1140.2 580.4V608.4" stroke="#008000" stroke-width="2.6" fill="none" opacity="0.75"/>
<path d="M1193.8 617.7H1221.8M1207.8 603.7V631.7" stroke="#008000" stroke-width="2.6" fill="none" opacity="0.75"/>
<path d="M1261.4 646.3H1289.4M1275.4 632.3V660.3" stroke="#008000" stroke-width="2.6" fill="none" opacity="0.75"/>
<path d="M1301.9 663.7H1329.9M1315.9 649.7V677.7" stroke="#008000" stroke-width="2.6" fill="none" opacity="0.75"/>
<path d="M1328.9 679.9H1356.9M1342.9 665.9V693.9" stroke="#008000" stroke-width="2.6" fill="none" opacity="0.75"/>
<path d="M1351.4 696.2H1379.4M1365.4 682.2V710.2" stroke="#008000" stroke-width="2.6" fill="none" opacity="0.75"/>
<path d="M1367.2 712.4H1395.2M1381.2 698.4V726.4" stroke="#008000" stroke-width="2.6" fill="none" opacity="0.75"/>
<path d="M1396.5 735.2H1424.5M1410.5 721.2V749.2" stroke="#008000" stroke-width="2.6" fill="none" opacity="0.75"/>
<path d="M1405.5 743.8H1433.5M1419.5 729.8V757.8" stroke="#008000" stroke-width="2.6" fill="none" opacity="0.75"/>
<path d="M1416.7 754.6H1444.7M1430.7 740.6V768.6" stroke="#008000" stroke-width="2.6" fill="none" opacity="0.75"/>
<path d="M1486.6 833.7H1514.6M1500.6 819.7V847.7" stroke="#008000" stroke-width="2.6" fill="none" opacity="0.75"/>
<path d="M1527.1 833.7H1555.1M1541.1 819.7V847.7" stroke="#008000" stroke-width="2.6" fill="none" opacity="0.75"/>
<path d="M532.2 1042.7C584.7 1053.2 637.3 1063.7 674.8 1074.5C712.4 1085.3 734.9 1096.5 757.4 1114.7C779.9 1133.0 802.4 1158.2 828.7 1198.7C855.0 1239.1 885.0 1294.7 907.5 1322.5C930.1 1350.3 945.1 1350.3 956.3 1350.3C967.6 1350.3 975.1 1350.3 990.1 1350.3C1005.1 1350.3 1027.6 1350.3 1053.9 1350.3C1080.2 1350.3 1110.2 1350.3 1136.5 1350.3C1162.8 1350.3 1185.3 1350.3 1207.8 1350.3C1230.3 1350.3 1252.8 1350.3 1267.9 1350.3C1282.9 1350.3 1290.4 1350.3 1297.9 1350.3C1305.4 1350.3 1312.9 1350.3 1318.1 1350.3C1323.4 1350.3 1326.4 1350.3 1329.4 1350.3C1332.4 1350.3 1335.4 1350.3 1338.4 1350.3C1341.4 1350.3 1344.4 1350.3 1347.4 1350.3C1350.4 1350.3 1353.4 1350.3 1356.4 1350.3C1359.4 1350.3 1362.4 1350.3 1365.4 1350.3C1368.4 1350.3 1371.4 1350.3 1374.4 1350.3C1377.5 1350.3 1380.5 1350.3 1383.5 1350.3C1386.5 1350.3 1389.5 1350.3 1394.5 1350.3C1399.6 1350.3 1406.7 1350.3 1413.9 1350.3" fill="none" stroke="#008080" stroke-width="12.0" stroke-linejoin="round" stroke-linecap="butt"/>
<path d="M516.2 1026.7L548.2 1058.7M516.2 1058.7L548.2 1026.7" stroke="#008080" stroke-width="2.6" fill="none" opacity="0.75"/>
<path d="M673.8 1058.1L705.8 1090.1M673.8 1090.1L705.8 1058.1" stroke="#008080" stroke-width="2.6" fill="none" opacity="0.75"/>
<path d="M741.4 1091.7L773.4 1123.7M741.4 1123.7L773.4 1091.7" stroke="#008080" stroke-width="2.6" fill="none" opacity="0.75"/>
<path d="M809.0 1167.5L841.0 1199.5M809.0 1199.5L841.0 1167.5" stroke="#008080" stroke-width="2.6" fill="none" opacity="0.75"/>
<path d="M899.0 1334.3L931.0 1366.3M899.0 1366.3L931.0 1334.3" stroke="#008080" stroke-width="2.6" fill="none" opacity="0.75"/>
<path d="M944.1 1334.3L976.1 1366.3M944.1 1366.3L976.1 1334.3" stroke="#008080" stroke-width="2.6" fill="none" opacity="0.75"/>
<path d="M966.6 1334.3L998.6 1366.3M966.6 1366.3L998.6 1334.3" stroke="#008080" stroke-width="2.6" fill="none" opacity="0.75"/>
<path d="M1034.2 1334.3L1066.2 1366.3M1034.2 1366.3L1066.2 1334.3" stroke="#008080" stroke-width="2.6" fill="none" opacity="0.75"/>
<path d="M1124.2 1334.3L1156.2 1366.3M1124.2 1366.3L1156.2 1334.3" stroke="#008080" stroke-width="2.6" fill="none" opacity="0.75"/>
<path d="M1191.8 1334.3L1223.8 1366.3M1191.8 1366.3L1223.8 1334.3" stroke="#008080" stroke-width="2.6" fill="none" opacity="0.75"/>
<path d="M1259.4 1334.3L1291.4 1366.3M1259.4 1366.3L1291.4 1334.3" stroke="#008080" stroke-width="2.6" fill="none" opacity="0.75"/>
<path d="M1281.9 1334.3L1313.9 1366.3M1281.9 1366.3L1313.9 1334.3" stroke="#008080" stroke-width="2.6" fill="none" opacity="0.75"/>
<path d="M1304.4 1334.3L1336.4 1366.3M1304.4 1366.3L1336.4 1334.3" stroke="#008080" stroke-width="2.6" fill="none" opacity="0.75"/>
<path d="M1313.4 1334.3L1345.4 1366.3M1313.4 1366.3L1345.4 1334.3" stroke="#008080" stroke-width="2.6" fill="none" opacity="0.75"/>
<path d="M1322.4 1334.3L1354.4 1366.3M1322.4 1366.3L1354.4 1334.3" stroke="#008080" stroke-width="2.6" fill="none" opacity="0.75"/>
<path d="M1331.4 1334.3L1363.4 1366.3M1331.4 1366.3L1363.4 1334.3" stroke="#008080" stroke-width="2.6" fill="none" opacity="0.75"/>
<path d="M1340.4 1334.3L1372.4 1366.3M1340.4 1366.3L1372.4 1334.3" stroke="#008080" stroke-width="2.6" fill="none" opacity="0.75"/>
<path d="M1349.4 1334.3L1381.4 1366.3M1349.4 1366.3L1381.4 1334.3" stroke="#008080" stroke-width="2.6" fill="none" opacity="0.75"/>
<path d="M1358.4 1334.3L1390.4 1366.3M1358.4 1366.3L1390.4 1334.3" stroke="#008080" stroke-width="2.6" fill="none" opacity="0.75"/>
<path d="M1367.5 1334.3L1399.5 1366.3M1367.5 1366.3L1399.5 1334.3" stroke="#008080" stroke-width="2.6" fill="none" opacity="0.75"/>
<path d="M1376.5 1334.3L1408.5 1366.3M1376.5 1366.3L1408.5 1334.3" stroke="#008080" stroke-width="2.6" fill="none" opacity="0.75"/>
<path d="M1397.9 1334.3L1429.9 1366.3M1397.9 1366.3L1429.9 1334.3" stroke="#008080" stroke-width="2.6" fill="none" opacity="0.75"/>
<path d="M532.2 195.8C584.7 197.6 637.3 199.4 674.8 201.2C712.4 203.0 734.9 204.8 757.4 207.2C779.9 209.5 802.4 212.4 828.7 217.5C855.0 222.5 885.0 229.8 907.5 236.8C930.1 243.8 945.1 250.7 956.3 256.1C967.6 261.5 975.1 265.5 990.1 274.5C1005.1 283.5 1027.6 297.6 1053.9 315.7C1080.2 333.7 1110.2 355.7 1136.5 379.2C1162.8 402.7 1185.3 427.6 1207.8 454.8C1230.3 482.1 1252.8 511.7 1267.9 532.3C1282.9 552.9 1290.4 564.4 1297.9 576.5C1305.4 588.6 1312.9 601.2 1318.1 609.7C1323.4 618.2 1326.4 622.5 1329.4 624.7C1332.4 626.9 1335.4 626.9 1338.4 626.9C1341.4 626.9 1344.4 626.9 1347.4 626.9C1350.4 626.9 1353.4 626.9 1356.4 626.9C1359.4 626.9 1362.4 626.9 1365.4 626.9C1368.4 626.9 1371.4 626.9 1374.4 626.9C1377.5 626.9 1380.5 626.9 1383.5 626.9C1386.5 626.9 1389.5 626.9 1394.5 626.9C1399.6 626.9 1406.7 626.9 1413.9 626.9" fill="none" stroke="#0000c8" stroke-width="12.0" stroke-linejoin="round" stroke-linecap="butt"/>
<path d="M517.2 180.8L547.2 210.8M517.2 210.8L547.2 180.8M515.0 195.8H549.5M532.2 178.6V213.1" stroke="#0000c8" stroke-width="2.6" fill="none" opacity="0.7"/>
<path d="M674.8 186.2L704.8 216.2M674.8 216.2L704.8 186.2M672.6 201.2H707.1M689.8 184.0V218.5" stroke="#0000c8" stroke-width="2.6" fill="none" opacity="0.7"/>
<path d="M742.4 191.7L772.4 221.7M742.4 221.7L772.4 191.7M740.1 206.7H774.6M757.4 189.4V223.9" stroke="#0000c8" stroke-width="2.6" fill="none" opacity="0.7"/>
<path d="M810.0 200.3L840.0 230.3M810.0 230.3L840.0 200.3M807.7 215.3H842.2M825.0 198.1V232.6" stroke="#0000c8" stroke-width="2.6" fill="none" opacity="0.7"/>
<path d="M900.0 222.0L930.0 252.0M900.0 252.0L930.0 222.0M897.8 237.0H932.3M915.0 219.7V254.2" stroke="#0000c8" stroke-width="2.6" fill="none" opacity="0.7"/>
<path d="M945.1 242.6L975.1 272.6M945.1 272.6L975.1 242.6M942.8 257.6H977.3M960.1 240.3V274.8" stroke="#0000c8" stroke-width="2.6" fill="none" opacity="0.7"/>
<path d="M967.6 254.5L997.6 284.5M967.6 284.5L997.6 254.5M965.3 269.5H999.8M982.6 252.2V286.7" stroke="#0000c8" stroke-width="2.6" fill="none" opacity="0.7"/>
<path d="M1035.2 296.7L1065.2 326.7M1035.2 326.7L1065.2 296.7M1032.9 311.7H1067.4M1050.2 294.5V329.0" stroke="#0000c8" stroke-width="2.6" fill="none" opacity="0.7"/>
<path d="M1125.2 362.8L1155.2 392.8M1125.2 392.8L1155.2 362.8M1123.0 377.8H1157.5M1140.2 360.5V395.0" stroke="#0000c8" stroke-width="2.6" fill="none" opacity="0.7"/>
<path d="M1192.8 437.5L1222.8 467.5M1192.8 467.5L1222.8 437.5M1190.5 452.5H1225.0M1207.8 435.2V469.7" stroke="#0000c8" stroke-width="2.6" fill="none" opacity="0.7"/>
<path d="M1260.4 526.3L1290.4 556.3M1260.4 556.3L1290.4 526.3M1258.1 541.3H1292.6M1275.4 524.0V558.5" stroke="#0000c8" stroke-width="2.6" fill="none" opacity="0.7"/>
<path d="M1282.9 561.0L1312.9 591.0M1282.9 591.0L1312.9 561.0M1280.6 576.0H1315.1M1297.9 558.7V593.2" stroke="#0000c8" stroke-width="2.6" fill="none" opacity="0.7"/>
<path d="M1305.4 598.9L1335.4 628.9M1305.4 628.9L1335.4 598.9M1303.2 613.9H1337.7M1320.4 596.6V631.1" stroke="#0000c8" stroke-width="2.6" fill="none" opacity="0.7"/>
<path d="M1314.4 611.9L1344.4 641.9M1314.4 641.9L1344.4 611.9M1312.2 626.9H1346.7M1329.4 609.6V644.1" stroke="#0000c8" stroke-width="2.6" fill="none" opacity="0.7"/>
<path d="M1323.4 611.9L1353.4 641.9M1323.4 641.9L1353.4 611.9M1321.2 626.9H1355.7M1338.4 609.6V644.1" stroke="#0000c8" stroke-width="2.6" fill="none" opacity="0.7"/>
<path d="M1332.4 611.9L1362.4 641.9M1332.4 641.9L1362.4 611.9M1330.2 626.9H1364.7M1347.4 609.6V644.1" stroke="#0000c8" stroke-width="2.6" fill="none" opacity="0.7"/>
<path d="M1341.4 611.9L1371.4 641.9M1341.4 641.9L1371.4 611.9M1339.2 626.9H1373.7M1356.4 609.6V644.1" stroke="#0000c8" stroke-width="2.6" fill="none" opacity="0.7"/>
<path d="M1350.4 611.9L1380.4 641.9M1350.4 641.9L1380.4 611.9M1348.2 626.9H1382.7M1365.4 609.6V644.1" stroke="#0000c8" stroke-width="2.6" fill="none" opacity="0.7"/>
<path d="M1359.4 611.9L1389.4 641.9M1359.4 641.9L1389.4 611.9M1357.2 626.9H1391.7M1374.4 609.6V644.1" stroke="#0000c8" stroke-width="2.6" fill="none" opacity="0.7"/>
<path d="M1368.5 611.9L1398.5 641.9M1368.5 641.9L1398.5 611.9M1366.2 626.9H1400.7M1383.5 609.6V644.1" stroke="#0000c8" stroke-width="2.6" fill="none" opacity="0.7"/>
<path d="M1377.5 611.9L1407.5 641.9M1377.5 641.9L1407.5 611.9M1375.2 626.9H1409.7M1392.5 609.6V644.1" stroke="#0000c8" stroke-width="2.6" fill="none" opacity="0.7"/>
<path d="M1398.9 611.9L1428.9 641.9M1398.9 641.9L1428.9 611.9M1396.6 626.9H1431.1M1413.9 609.6V644.1" stroke="#0000c8" stroke-width="2.6" fill="none" opacity="0.7"/>
<path d="M532.2 504.5C607.3 511.2 682.3 514.4 757.4 524.5C798.2 530.0 839.1 542.1 879.9 553.2C916.1 563.0 952.3 575.5 988.5 587.9C1015.8 597.2 1043.1 606.7 1070.4 617.7C1097.5 628.5 1124.5 639.2 1151.5 653.9C1174.0 666.2 1196.5 683.1 1219.1 700.5C1241.6 717.9 1264.1 734.1 1286.6 760.1C1295.6 770.5 1304.6 791.4 1313.6 800.7C1319.2 806.4 1324.8 813.8 1330.3 814.2C1342.0 815.0 1353.7 815.3 1365.4 815.3C1384.2 815.3 1403.0 815.3 1421.7 815.3" fill="none" stroke="#e08000" stroke-width="11.0" stroke-linejoin="round" stroke-linecap="butt"/>
<path d="M518.2 504.5H546.2" stroke="#e08000" stroke-width="2.6" fill="none" opacity="0.75"/>
<path d="M743.4 524.5H771.4" stroke="#e08000" stroke-width="2.6" fill="none" opacity="0.75"/>
<path d="M865.9 553.2H893.9" stroke="#e08000" stroke-width="2.6" fill="none" opacity="0.75"/>
<path d="M974.5 587.9H1002.5" stroke="#e08000" stroke-width="2.6" fill="none" opacity="0.75"/>
<path d="M1056.4 617.7H1084.4" stroke="#e08000" stroke-width="2.6" fill="none" opacity="0.75"/>
<path d="M1137.5 653.9H1165.5" stroke="#e08000" stroke-width="2.6" fill="none" opacity="0.75"/>
<path d="M1205.1 700.5H1233.1" stroke="#e08000" stroke-width="2.6" fill="none" opacity="0.75"/>
<path d="M1272.6 760.1H1300.6" stroke="#e08000" stroke-width="2.6" fill="none" opacity="0.75"/>
<path d="M1299.6 800.7H1327.6" stroke="#e08000" stroke-width="2.6" fill="none" opacity="0.75"/>
<path d="M1316.3 814.2H1344.3" stroke="#e08000" stroke-width="2.6" fill="none" opacity="0.75"/>
<path d="M1351.4 815.3H1379.4" stroke="#e08000" stroke-width="2.6" fill="none" opacity="0.75"/>
<path d="M1407.7 815.3H1435.7" stroke="#e08000" stroke-width="2.6" fill="none" opacity="0.75"/>
</g>
<rect x="307.5" y="50.0" width="1916.0" height="1409.0" fill="none" stroke="#000" stroke-width="5.5"/>
<path d="M307.0 1459.0v-29.5M419.6 1459.0v-16M532.2 1459.0v-29.5M644.8 1459.0v-16M757.4 1459.0v-29.5M870.0 1459.0v-16M982.6 1459.0v-29.5M1095.2 1459.0v-16M1207.8 1459.0v-29.5M1320.4 1459.0v-16M1433.0 1459.0v-29.5M1545.6 1459.0v-16M1658.2 1459.0v-29.5M1770.8 1459.0v-16M1883.4 1459.0v-29.5M1996.0 1459.0v-16M2108.6 1459.0v-29.5M2221.2 1459.0v-16M307.5 1350.3h29.5M307.5 1133.7h29.5M307.5 917.1h29.5M307.5 700.5h29.5M307.5 483.9h29.5M307.5 267.3h29.5M307.5 50.7h29.5M307.5 1242.0h16M307.5 1025.4h16M307.5 808.8h16M307.5 592.2h16M307.5 375.6h16M307.5 159.0h16" stroke="#000" stroke-width="5" fill="none"/>
<text x="306.5" y="1534.5" font-size="58.5" text-anchor="middle" font-family="Liberation Sans, Arial, sans-serif" fill="#111">-8</text>
<text x="531.7" y="1534.5" font-size="58.5" text-anchor="middle" font-family="Liberation Sans, Arial, sans-serif" fill="#111">-7</text>
<text x="756.9" y="1534.5" font-size="58.5" text-anchor="middle" font-family="Liberation Sans, Arial, sans-serif" fill="#111">-6</text>
<text x="982.1" y="1534.5" font-size="58.5" text-anchor="middle" font-family="Liberation Sans, Arial, sans-serif" fill="#111">-5</text>
<text x="1207.3" y="1534.5" font-size="58.5" text-anchor="middle" font-family="Liberation Sans, Arial, sans-serif" fill="#111">-4</text>
<text x="1432.5" y="1534.5" font-size="58.5" text-anchor="middle" font-family="Liberation Sans, Arial, sans-serif" fill="#111">-3</text>
<text x="1657.7" y="1534.5" font-size="58.5" text-anchor="middle" font-family="Liberation Sans, Arial, sans-serif" fill="#111">-2</text>
<text x="1882.9" y="1534.5" font-size="58.5" text-anchor="middle" font-family="Liberation Sans, Arial, sans-serif" fill="#111">-1</text>
<text x="2109.6" y="1534.5" font-size="58.5" text-anchor="middle" font-family="Liberation Sans, Arial, sans-serif" fill="#111">0</text>
<text x="275" y="1365.8" font-size="58.5" text-anchor="end" font-family="Liberation Sans, Arial, sans-serif" fill="#111">0</text>
<text x="275" y="1149.2" font-size="58.5" text-anchor="end" font-family="Liberation Sans, Arial, sans-serif" fill="#111">20</text>
<text x="275" y="932.6" font-size="58.5" text-anchor="end" font-family="Liberation Sans, Arial, sans-serif" fill="#111">40</text>
<text x="275" y="716.0" font-size="58.5" text-anchor="end" font-family="Liberation Sans, Arial, sans-serif" fill="#111">60</text>
<text x="275" y="499.4" font-size="58.5" text-anchor="end" font-family="Liberation Sans, Arial, sans-serif" fill="#111">80</text>
<text x="275" y="282.8" font-size="58.5" text-anchor="end" font-family="Liberation Sans, Arial, sans-serif" fill="#111">100</text>
<text x="275" y="66.2" font-size="58.5" text-anchor="end" font-family="Liberation Sans, Arial, sans-serif" fill="#111">120</text>
<text x="1256.5" y="1635" font-size="70" font-family="Liberation Serif, Times New Roman, serif" fill="#111">log<tspan font-style="italic">C</tspan></text>
<text x="1391" y="1663" font-size="48" font-family="Liberation Serif, Times New Roman, serif" fill="#111">S</text>
<text transform="translate(73,846) rotate(-90)" font-size="70.5" font-family="Liberation Serif, Times New Roman, serif" fill="#111"><tspan font-style="italic">θ</tspan>,</text>
<text transform="translate(73,770.4) rotate(-90)" font-size="71.3" font-family="Liberation Serif, Times New Roman, serif" fill="#111">[degree]</text>
<text transform="translate(685.0,417.0) scale(0.95,1.03)" font-size="69" font-family="Liberation Serif, Times New Roman, serif" fill="#111">9</text>
<text transform="translate(914.0,394.0) scale(0.95,1.03)" font-size="69" font-family="Liberation Serif, Times New Roman, serif" fill="#111">5</text>
<text transform="translate(1190.0,406.0) scale(0.95,1.03)" font-size="69" font-family="Liberation Serif, Times New Roman, serif" fill="#111">14</text>
<text transform="translate(1359.0,390.0) scale(0.95,1.03)" font-size="69" font-family="Liberation Serif, Times New Roman, serif" fill="#111">11</text>
<text transform="translate(1716.0,651.5) scale(0.95,1.03)" font-size="69" font-family="Liberation Serif, Times New Roman, serif" fill="#111">2</text>
<text transform="translate(1466.0,708.5) scale(0.95,1.03)" font-size="69" font-family="Liberation Serif, Times New Roman, serif" fill="#111">8</text>
<text transform="translate(1553.0,852.0) scale(0.95,1.03)" font-size="69" font-family="Liberation Serif, Times New Roman, serif" fill="#111">12</text>
<text transform="translate(1794.0,885.0) scale(0.95,1.03)" font-size="69" font-family="Liberation Serif, Times New Roman, serif" fill="#111">3</text>
<text transform="translate(907.0,648.5) scale(0.95,1.03)" font-size="69" font-family="Liberation Serif, Times New Roman, serif" fill="#111">15</text>
<text transform="translate(1418.0,1075.0) scale(0.95,1.03)" font-size="69" font-family="Liberation Serif, Times New Roman, serif" fill="#111">6</text>
<text transform="translate(1015.0,1206.5) scale(0.95,1.03)" font-size="69" font-family="Liberation Serif, Times New Roman, serif" fill="#111">10</text>
<text transform="translate(1251.0,1227.0) scale(0.95,1.03)" font-size="69" font-family="Liberation Serif, Times New Roman, serif" fill="#111">1</text>
<text transform="translate(536.0,1206.5) scale(0.95,1.03)" font-size="69" font-family="Liberation Serif, Times New Roman, serif" fill="#111">4</text>
<text transform="translate(715.0,1179.0) scale(0.95,1.03)" font-size="69" font-family="Liberation Serif, Times New Roman, serif" fill="#111">7</text>
<text transform="translate(853.0,1212.0) scale(0.95,1.03)" font-size="69" font-family="Liberation Serif, Times New Roman, serif" fill="#111">13</text>
<rect x="1879.5" y="91.5" width="289.0" height="1154.0" fill="#fff" stroke="#000" stroke-width="4"/>
<text x="1883" y="183.4" font-size="43.5" font-weight="bold" font-family="Liberation Serif, Times New Roman, serif" fill="#111">OGP:</text>
<text x="1885" y="237.7" font-size="42" font-family="Liberation Serif, Times New Roman, serif" fill="#111">1</text>
<rect x="1902.0" y="217.4" width="36.0" height="12.5" rx="3.5" fill="#000"/><rect x="1967.0" y="217.4" width="38.5" height="12.5" rx="3.5" fill="#000"/>
<rect x="1944.1" y="215.3" width="16.7" height="16.7" fill="#000"/>
<text x="2025.0" y="237.7" font-size="42" font-family="Liberation Serif, Times New Roman, serif" fill="#111">Eq. (2)</text>
<text x="1885" y="292.0" font-size="42" font-family="Liberation Serif, Times New Roman, serif" fill="#111">2</text>
<rect x="1902.0" y="271.7" width="36.0" height="12.5" rx="3.5" fill="#ff0000"/><rect x="1967.0" y="271.7" width="38.5" height="12.5" rx="3.5" fill="#ff0000"/>
<circle cx="1952.5" cy="278.0" r="9.3" fill="#ff0000"/>
<text x="2025.0" y="292.0" font-size="42" font-family="Liberation Serif, Times New Roman, serif" fill="#111">Eq. (3)</text>
<text x="1885" y="346.3" font-size="42" font-family="Liberation Serif, Times New Roman, serif" fill="#111">3</text>
<rect x="1902.0" y="326.0" width="36.0" height="12.5" rx="3.5" fill="#00ff00"/><rect x="1967.0" y="326.0" width="38.5" height="12.5" rx="3.5" fill="#00ff00"/>
<polygon points="1952.5,318.6 1940.4,339.1 1964.6,339.1" fill="#00ff00"/>
<text x="2014.0" y="346.3" font-size="42" font-family="Liberation Serif, Times New Roman, serif" fill="#111">Eq. (8)</text>
<text x="1883" y="400.6" font-size="43.5" font-weight="bold" font-family="Liberation Serif, Times New Roman, serif" fill="#111">DDGP:</text>
<text x="1885" y="454.9" font-size="42" font-family="Liberation Serif, Times New Roman, serif" fill="#111">4</text>
<rect x="1902.0" y="434.6" width="36.0" height="12.5" rx="3.5" fill="#0000ff"/><rect x="1967.0" y="434.6" width="38.5" height="12.5" rx="3.5" fill="#0000ff"/>
<polygon points="1952.5,454.5 1964.6,434.0 1940.4,434.0" fill="#0000ff"/>
<text x="2014.0" y="454.9" font-size="42" font-family="Liberation Serif, Times New Roman, serif" fill="#111">Eq.(2)</text>
<text x="1885" y="509.1" font-size="42" font-family="Liberation Serif, Times New Roman, serif" fill="#111">5</text>
<rect x="1902.0" y="488.9" width="36.0" height="12.5" rx="3.5" fill="#00ffff"/><rect x="1967.0" y="488.9" width="38.5" height="12.5" rx="3.5" fill="#00ffff"/>
<polygon points="1952.5,482.8 1962.7,495.1 1952.5,507.5 1942.3,495.1" fill="#00ffff"/>
<text x="2014.0" y="509.1" font-size="42" font-family="Liberation Serif, Times New Roman, serif" fill="#111">Eq.(3)</text>
<text x="1885" y="563.4" font-size="42" font-family="Liberation Serif, Times New Roman, serif" fill="#111">6</text>
<rect x="1902.0" y="543.2" width="36.0" height="12.5" rx="3.5" fill="#ff00ff"/><rect x="1967.0" y="543.2" width="38.5" height="12.5" rx="3.5" fill="#ff00ff"/>
<polygon points="1938.9,549.4 1959.3,561.5 1959.3,537.4" fill="#ff00ff"/>
<text x="2025.0" y="563.4" font-size="42" font-family="Liberation Serif, Times New Roman, serif" fill="#111">Eq.(8)</text>
<text x="1883" y="617.7" font-size="43.5" font-weight="bold" font-family="Liberation Serif, Times New Roman, serif" fill="#111">DM:</text>
<text x="1885" y="672.0" font-size="42" font-family="Liberation Serif, Times New Roman, serif" fill="#111">7</text>
<rect x="1902.0" y="651.8" width="36.0" height="12.5" rx="3.5" fill="#ffff00"/><rect x="1967.0" y="651.8" width="38.5" height="12.5" rx="3.5" fill="#ffff00"/>
<polygon points="1966.1,658.0 1945.7,645.9 1945.7,670.1" fill="#ffff00"/>
<text x="2014.0" y="672.0" font-size="42" font-family="Liberation Serif, Times New Roman, serif" fill="#111">Eq.(2)</text>
<text x="1885" y="726.3" font-size="42" font-family="Liberation Serif, Times New Roman, serif" fill="#111">8</text>
<rect x="1902.0" y="706.1" width="36.0" height="12.5" rx="3.5" fill="#808000"/><rect x="1967.0" y="706.1" width="38.5" height="12.5" rx="3.5" fill="#808000"/>
<polygon points="1952.5,701.8 1943.4,707.0 1943.4,717.6 1952.5,722.8 1961.6,717.6 1961.6,707.0" fill="#808000"/>
<text x="2014.0" y="726.3" font-size="42" font-family="Liberation Serif, Times New Roman, serif" fill="#111">Eq.(3)</text>
<text x="1885" y="780.6" font-size="42" font-family="Liberation Serif, Times New Roman, serif" fill="#111">9</text>
<rect x="1902.0" y="760.3" width="36.0" height="12.5" rx="3.5" fill="#000080"/><rect x="1967.0" y="760.3" width="38.5" height="12.5" rx="3.5" fill="#000080"/>
<polygon points="1952.5,755.1 1949.9,763.0 1941.6,763.1 1948.3,768.0 1945.8,775.9 1952.5,771.1 1959.2,775.9 1956.7,768.0 1963.4,763.1 1955.1,763.0" fill="#000080"/>
<text x="2025.0" y="780.6" font-size="42" font-family="Liberation Serif, Times New Roman, serif" fill="#111">Eq.(8)</text>
<text x="1883" y="834.9" font-size="43.5" font-weight="bold" font-family="Liberation Serif, Times New Roman, serif" fill="#111">SMD:</text>
<text x="1885" y="889.2" font-size="42" font-family="Liberation Serif, Times New Roman, serif" fill="#111">10</text>
<rect x="1922.0" y="868.9" width="39.0" height="12.5" rx="3.5" fill="#800080"/><rect x="1989.0" y="868.9" width="39.0" height="12.5" rx="3.5" fill="#800080"/>
<polygon points="1975.0,864.3 1964.7,871.8 1968.6,884.0 1981.4,884.0 1985.3,871.8" fill="#800080"/>
<text x="2046.0" y="889.2" font-size="42" font-family="Liberation Serif, Times New Roman, serif" fill="#111">Eq.(2)</text>
<text x="1885" y="943.5" font-size="42" font-family="Liberation Serif, Times New Roman, serif" fill="#111">11</text>
<rect x="1922.0" y="923.2" width="39.0" height="12.5" rx="3.5" fill="#800000"/><rect x="1989.0" y="923.2" width="39.0" height="12.5" rx="3.5" fill="#800000"/>
<circle cx="1975.0" cy="929.5" r="9.5" fill="url(#sph)"/>
<text x="2046.0" y="943.5" font-size="42" font-family="Liberation Serif, Times New Roman, serif" fill="#111">Eq.(3)</text>
<text x="1885" y="997.8" font-size="42" font-family="Liberation Serif, Times New Roman, serif" fill="#111">12</text>
<rect x="1922.0" y="977.5" width="39.0" height="12.5" rx="3.5" fill="#008000"/><rect x="1989.0" y="977.5" width="39.0" height="12.5" rx="3.5" fill="#008000"/>
<path d="M1961.0 983.8H1989.0" stroke="#008000" stroke-width="2.5" fill="none" opacity="0.8"/>
<path d="M1966.3 983.8H1983.7M1975.0 975.1V992.4" stroke="#008000" stroke-width="1.6" fill="none" opacity="0.75"/>
<text x="2025.5" y="997.8" font-size="42" font-family="Liberation Serif, Times New Roman, serif" fill="#111">Eq.(8)</text>
<text x="1883" y="1052.0" font-size="43.5" font-weight="bold" font-family="Liberation Serif, Times New Roman, serif" fill="#111">SML:</text>
<text x="1885" y="1106.3" font-size="42" font-family="Liberation Serif, Times New Roman, serif" fill="#111">13</text>
<rect x="1922.0" y="1086.1" width="39.0" height="12.5" rx="3.5" fill="#008080"/><rect x="1989.0" y="1086.1" width="39.0" height="12.5" rx="3.5" fill="#008080"/>
<path d="M1961.0 1092.3H1989.0" stroke="#008080" stroke-width="2.5" fill="none" opacity="0.8"/>
<path d="M1965.1 1082.4L1984.9 1102.3M1965.1 1102.3L1984.9 1082.4" stroke="#008080" stroke-width="1.6" fill="none" opacity="0.75"/>
<text x="2035.5" y="1106.3" font-size="42" font-family="Liberation Serif, Times New Roman, serif" fill="#111">Eq.(2)</text>
<text x="1885" y="1160.6" font-size="42" font-family="Liberation Serif, Times New Roman, serif" fill="#111">14</text>
<rect x="1922.0" y="1140.4" width="39.0" height="12.5" rx="3.5" fill="#0000c8"/><rect x="1989.0" y="1140.4" width="39.0" height="12.5" rx="3.5" fill="#0000c8"/>
<path d="M1961.0 1146.6H1989.0" stroke="#0000c8" stroke-width="2.5" fill="none" opacity="0.8"/>
<path d="M1965.7 1137.3L1984.3 1155.9M1965.7 1155.9L1984.3 1137.3M1964.3 1146.6H1985.7M1975.0 1135.9V1157.3" stroke="#0000c8" stroke-width="1.6" fill="none" opacity="0.7"/>
<text x="2035.5" y="1160.6" font-size="42" font-family="Liberation Serif, Times New Roman, serif" fill="#111">Eq.(3)</text>
<text x="1885" y="1214.9" font-size="42" font-family="Liberation Serif, Times New Roman, serif" fill="#111">15</text>
<rect x="1922.0" y="1194.7" width="39.0" height="12.5" rx="3.5" fill="#e08000"/><rect x="1989.0" y="1194.7" width="39.0" height="12.5" rx="3.5" fill="#e08000"/>
<path d="M1961.0 1200.9H1989.0" stroke="#e08000" stroke-width="2.5" fill="none" opacity="0.8"/>
<path d="M1966.3 1200.9H1983.7" stroke="#e08000" stroke-width="1.6" fill="none" opacity="0.75"/>
<text x="2035.5" y="1214.9" font-size="42" font-family="Liberation Serif, Times New Roman, serif" fill="#111">Eq.(8)</text>
</svg>
</body></html>
